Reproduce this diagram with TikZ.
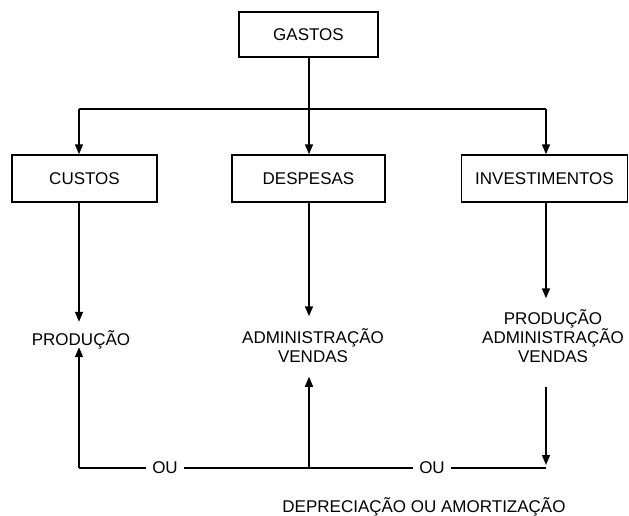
\documentclass[tikz,border=0pt]{standalone}
\usepackage{fontspec}
\setmainfont{Liberation Sans}
\usetikzlibrary{arrows.meta}
\begin{document}
\begin{tikzpicture}[x=1pt,y=-1pt,
  every node/.style={font=\fontsize{17}{19}\selectfont, text=black},
  box/.style={draw=black, line width=1.5pt, inner sep=0pt},
  txt/.style={inner sep=0pt, align=center},
  conn/.style={line width=1.5pt, draw=black},
  arr/.style={conn, -{Triangle[width=8pt,length=10pt]}},
  ou/.style={inner xsep=6pt, inner ysep=0pt}
]
\useasboundingbox (0,0) rectangle (629,515);
% boxes
\node[box, minimum width=139pt, minimum height=45pt] (gastos) at (308.5,34.5) {GASTOS};
\node[box, minimum width=145pt, minimum height=47pt] (custos) at (84.5,178.5) {CUSTOS};
\node[box, minimum width=153pt, minimum height=47pt] (despesas) at (308.5,178.5) {DESPESAS};
\node[box, minimum width=166pt, minimum height=47pt] (invest) at (544.5,178.5) {INVESTIMENTOS};
% texts
\node[txt, text height=12pt, text depth=0pt] (prod) at (81,339) {PRODUÇÃO};
\node[txt] (adm) at (313,345.5) {ADMINISTRAÇÃO\\VENDAS};
\node[txt] (pav) at (553,336) {PRODUÇÃO\\ADMINISTRAÇÃO\\VENDAS};
\node[txt] (depr) at (424,507) {DEPRECIAÇÃO OU AMORTIZAÇÃO};
\node[ou] (ou1) at (165,468) {OU};
\node[ou] (ou2) at (432,468) {OU};
% coordinates
\coordinate (bl) at (79,109);
\coordinate (bm) at (309,109);
\coordinate (br) at (546,109);
\coordinate (cl) at (79,468);
\coordinate (cm) at (309,468);
\coordinate (cr) at (546,468);
% top tree
\draw[conn] (gastos.south -| bm) -- (bm);
\draw[conn] (bl) -- (br);
\draw[arr] (bm) -- (despesas.north -| bm);
\draw[arr] (bl) -- (custos.north -| bl);
\draw[arr] (br) -- (invest.north -| br);
% down arrows
\draw[arr, shorten >=11pt] (custos.south -| bl) -- (prod.north -| bl);
\draw[arr, shorten >=12pt] (despesas.south -| bm) -- (adm.north -| bm);
\draw[arr, shorten >=11pt] (invest.south -| br) -- (pav.north -| br);
% bottom
\draw[conn] (cl) -- (ou1) -- (ou2) -- (cr);
\draw[arr, shorten >=2pt] (cl) -- (prod.south -| cl);
\draw[arr, shorten >=14pt] (cm) -- (adm.south -| cm);
\draw[arr, shorten <=24pt, shorten >=3pt] (pav.south -| cr) -- (cr);
\end{tikzpicture}
\end{document}
